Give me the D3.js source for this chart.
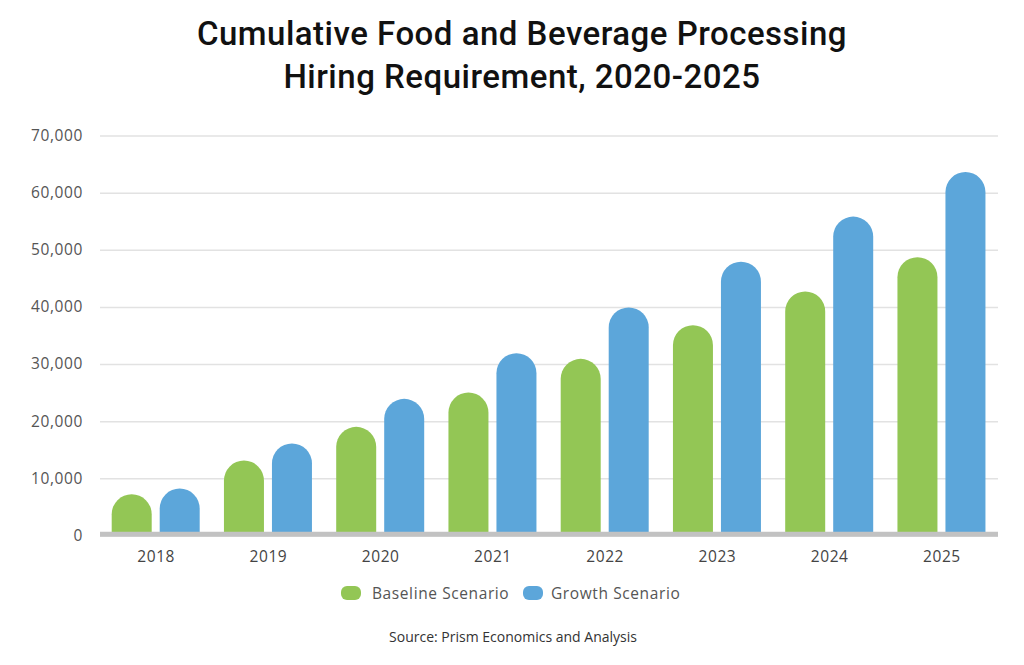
<!DOCTYPE html>
<html><head><meta charset="utf-8">
<script src="https://cdn.jsdelivr.net/npm/d3@7"></script>
<style>html,body{margin:0;padding:0;background:#fff;}svg{display:block;}</style>
</head><body>
<svg id="chart" width="1024" height="665"></svg>
<script>
const years = ["2018","2019","2020","2021","2022","2023","2024","2025"];
const baseline = [7200, 13100, 19000, 25000, 30900, 36800, 42700, 48700];
const growth = [8200, 16100, 23900, 31900, 39900, 47900, 55800, 63600];
const seriesNames = ["Baseline Scenario", "Growth Scenario"];
const seriesColors = ["#93c655", "#5ca6da"];
const yTicks = [0, 10000, 20000, 30000, 40000, 50000, 60000, 70000];
const titleLines = ["Cumulative Food and Beverage Processing", "Hiring Requirement, 2020-2025"];
const sourceText = "Source: Prism Economics and Analysis";

(function(){
const svg = d3.select("#chart");
const mLeft = 100, mRight = 998, mTop = 135.5, mBottom = 535.4;
const x = d3.scaleBand().domain(years).range([mLeft, mRight]).paddingInner(0).paddingOuter(0);
const xs = d3.scaleBand().domain([0,1]).range([0, 88]).paddingInner(1/6);
const y = d3.scaleLinear().domain([0, 70000]).range([mBottom, mTop]);

// title
svg.append("g").selectAll("text").data(titleLines).join("text")
  .attr("x", 522).attr("y", (d,i) => 45 + i*43)
  .attr("text-anchor", "middle")
  .attr("font-family", "Roboto, sans-serif").attr("font-size", 33).attr("font-weight", 500)
  .attr("letter-spacing", 0.5)
  .attr("fill", "#111").text(d => d);

// grid
const yAxis = d3.axisLeft(y).tickValues(yTicks).tickSize(-(mRight-mLeft)).tickPadding(17)
  .tickFormat(d => d3.format(",")(d));
const gy = svg.append("g").attr("transform", `translate(${mLeft},0)`).call(yAxis);
gy.select(".domain").remove();
gy.selectAll(".tick line").attr("stroke", "#e2e2e2").attr("stroke-width", 1.5);
gy.selectAll(".tick text").attr("font-family", "'Open Sans', sans-serif").attr("font-size", 15.5)
  .attr("fill", "#555").attr("letter-spacing", 0.6);

// bars with rounded tops
function barPath(x0, w, yTop, yBot) {
  const r = w/2;
  const h = yBot - yTop;
  const rr = Math.min(r, h);
  return `M${x0},${yBot}V${yTop+rr}A${r},${rr} 0 0 1 ${x0+w},${yTop+rr}V${yBot}Z`;
}
const data = [];
years.forEach((yr, i) => {
  [baseline[i], growth[i]].forEach((v, s) => data.push({yr, s, v}));
});
svg.append("g").selectAll("path").data(data).join("path")
  .attr("d", d => barPath(x(d.yr) + 11.7 + xs(d.s), xs.bandwidth(), y(d.v), mBottom))
  .attr("fill", d => seriesColors[d.s]);

// x axis
svg.append("line").attr("x1", mLeft).attr("x2", mRight).attr("y1", 534.3).attr("y2", 534.3)
  .attr("stroke", "#c2c2c2").attr("stroke-width", 5);
const xAxis = d3.axisBottom(x).tickSize(0).tickPadding(16);
const gx = svg.append("g").attr("transform", `translate(0,${mBottom})`).call(xAxis);
gx.select(".domain").remove();
gx.selectAll(".tick text").attr("font-family", "'Open Sans', sans-serif").attr("font-size", 15.5)
  .attr("fill", "#444").attr("letter-spacing", 0.6);

// legend
const legendX = [341, 523];
const lg = svg.append("g").selectAll("g").data(seriesNames).join("g")
  .attr("transform", (d,i) => `translate(${legendX[i]},586)`);
lg.append("rect").attr("width", 20).attr("height", 14).attr("rx", 6).attr("fill", (d,i) => seriesColors[i]);
lg.append("text").attr("x", (d,i) => i === 0 ? 31 : 28).attr("y", 12.5)
  .attr("font-family", "'Open Sans', sans-serif").attr("font-size", 15.5).attr("fill", "#555")
  .attr("letter-spacing", 0.6).text(d => d);

// source
svg.append("text").attr("x", 513).attr("y", 642).attr("text-anchor", "middle")
  .attr("font-family", "'Open Sans', sans-serif").attr("font-size", 14).attr("fill", "#333")
  .text(sourceText);
})();
</script>
</body></html>
